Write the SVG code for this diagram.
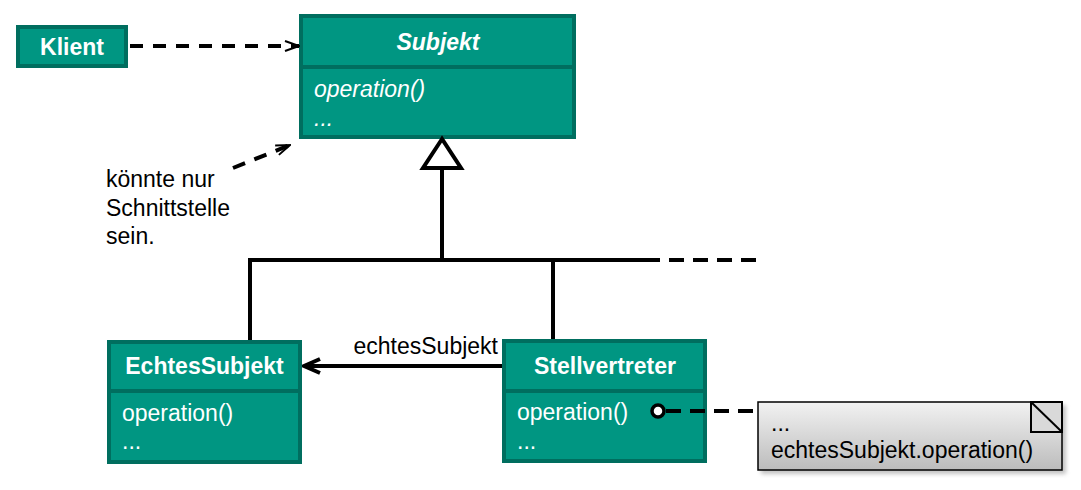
<svg xmlns="http://www.w3.org/2000/svg" width="1081" height="490" viewBox="0 0 1081 490">
<style>
.box{fill:#009682;stroke:#006E5F;stroke-width:4}
.div{stroke:#006E5F;stroke-width:4}
.t{font-family:"Liberation Sans",Arial,sans-serif;font-size:23px;fill:#ffffff}
.b{font-weight:bold}
.i{font-style:italic}
.blk{font-family:"Liberation Sans",Arial,sans-serif;fill:#000000}
.ln{stroke:#000;fill:none}
</style>
<defs>
<linearGradient id="ng" x1="0" y1="0" x2="0" y2="1">
<stop offset="0" stop-color="#f2f2f2"/>
<stop offset="1" stop-color="#bcbcbc"/>
</linearGradient>
<filter id="sh" x="-10%" y="-20%" width="130%" height="150%">
<feGaussianBlur stdDeviation="2"/>
</filter>
<marker id="oa" markerUnits="userSpaceOnUse" viewBox="0 0 16 12" refX="15" refY="6" markerWidth="16" markerHeight="12" orient="auto">
<path d="M1,1 L15,6 L1,11" fill="none" stroke="#000" stroke-width="2"/>
</marker>
<marker id="oa2" markerUnits="userSpaceOnUse" viewBox="0 0 20 18" refX="18" refY="9" markerWidth="20" markerHeight="18" orient="auto">
<path d="M2,2 L18,9 L2,16" fill="none" stroke="#000" stroke-width="4"/>
</marker>
</defs>
<rect width="1081" height="490" fill="#ffffff"/>

<g id="klient">
<rect class="box" x="18" y="27" width="108" height="39"/>
<text class="t b" x="72" y="55" text-anchor="middle">Klient</text>
</g>

<g id="subjekt">
<rect class="box" x="301" y="16" width="273" height="121"/>
<line class="div" x1="301" y1="67" x2="574" y2="67"/>
<text class="t b i" x="438" y="50" text-anchor="middle">Subjekt</text>
<text class="t i" x="314" y="97">operation()</text>
<text class="t i" x="314" y="126">...</text>
</g>

<g id="hinweis">
<text class="blk" x="106" y="187" font-size="23">könnte nur</text>
<text class="blk" x="106" y="216" font-size="23">Schnittstelle</text>
<text class="blk" x="106" y="244" font-size="23">sein.</text>
</g>

<g id="echtesSubjekt">
<rect class="box" x="109" y="342" width="191" height="120"/>
<line class="div" x1="109" y1="391" x2="300" y2="391"/>
<text class="t b" x="204.5" y="374" text-anchor="middle">EchtesSubjekt</text>
<text class="t" x="122" y="421">operation()</text>
<text class="t" x="122" y="449">...</text>
</g>

<g id="stellvertreter">
<rect class="box" x="504" y="341" width="201" height="120"/>
<line class="div" x1="504" y1="391" x2="705" y2="391"/>
<text class="t b" x="605" y="374" text-anchor="middle">Stellvertreter</text>
<text class="t" x="517" y="420">operation()</text>
<text class="t" x="517" y="449">...</text>
</g>

<g id="notiz">
<rect x="761" y="405" width="305" height="69" fill="#999" opacity="0.6" filter="url(#sh)"/>
<rect x="758" y="402" width="304" height="68" fill="url(#ng)" stroke="#000" stroke-width="1.5"/>
<rect x="1031" y="402" width="31" height="30" fill="#d9d9d9" stroke="#000" stroke-width="2"/>
<line x1="1031" y1="402" x2="1062" y2="432" stroke="#000" stroke-width="2"/>
<text class="blk" x="771" y="431" font-size="23" fill="#111">...</text>
<text class="blk" x="771" y="458" font-size="23" fill="#111">echtesSubjekt.operation()</text>
</g>

<g id="connectors">
<line class="ln" x1="130" y1="46" x2="299" y2="46" stroke-width="4" stroke-dasharray="13,10" marker-end="url(#oa)"/>
<line class="ln" x1="233" y1="168" x2="290" y2="145" stroke-width="4" stroke-dasharray="13,10" marker-end="url(#oa)"/>
<polygon points="442,139 423,168 461,168" fill="#ffffff" stroke="#000" stroke-width="4"/>
<line class="ln" x1="442" y1="168" x2="442" y2="260" stroke-width="4"/>
<polyline class="ln" points="250,340 250,260 660,260" stroke-width="4"/>
<line class="ln" x1="553" y1="260" x2="553" y2="339" stroke-width="4"/>
<line class="ln" x1="669" y1="260" x2="757" y2="260" stroke-width="4" stroke-dasharray="15,9"/>
<line class="ln" x1="502" y1="366" x2="304" y2="366" stroke-width="4" marker-end="url(#oa2)"/>
<text class="blk" x="498" y="354" font-size="23" text-anchor="end">echtesSubjekt</text>
<line class="ln" x1="666" y1="411" x2="757" y2="411" stroke-width="4" stroke-dasharray="15,9"/>
<circle cx="658" cy="411" r="6" fill="#ffffff" stroke="#000" stroke-width="3.5"/>
</g>
</svg>
